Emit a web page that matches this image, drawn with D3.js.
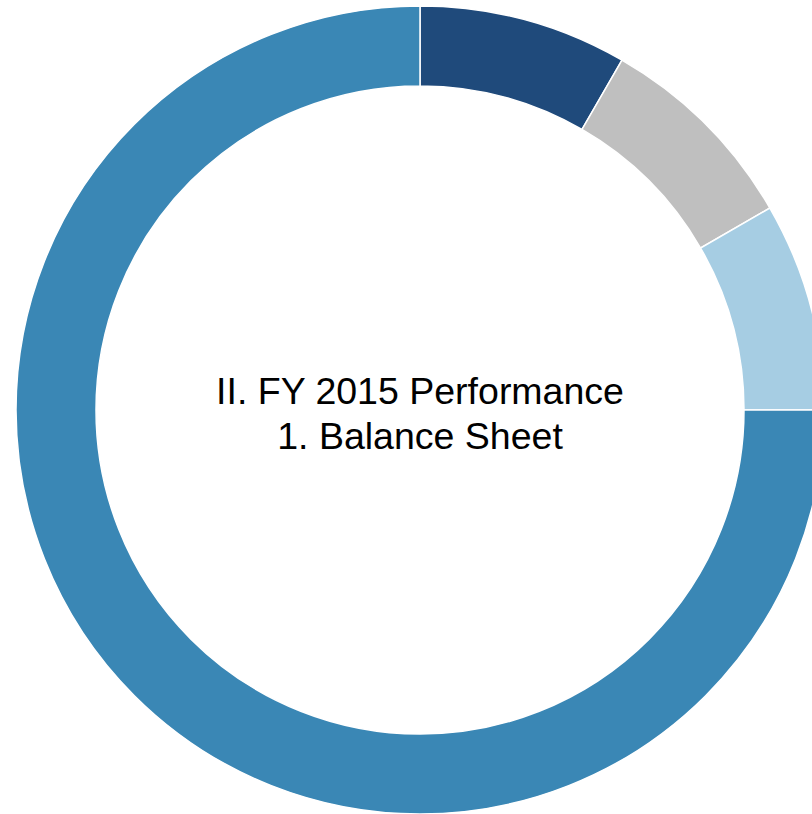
<!DOCTYPE html>
<html>
<head>
<meta charset="utf-8">
<script src="https://cdn.jsdelivr.net/npm/d3@7"></script>
<style>
html,body{margin:0;padding:0;background:#fff;overflow:hidden;}
</style>
</head>
<body>
<svg id="chart" width="812" height="814"></svg>
<script>
const categories = ["Segment A", "Segment B", "Segment C", "Segment D"];
const values = [1, 1, 1, 9];
const colors = ["#1F4A7B", "#BFBFBF", "#A6CDE3", "#3A87B5"];
const titleLines = ["II. FY 2015 Performance", "1. Balance Sheet"];

const svg = d3.select("#chart");
const cx = 420, cy = 410, outerR = 404, innerR = 324;

const pie = d3.pie().sort(null).value(d => d.value);
const arc = d3.arc().innerRadius(innerR).outerRadius(outerR);
const data = categories.map((c, i) => ({ name: c, value: values[i] }));

const g = svg.append("g").attr("transform", `translate(${cx},${cy})`);
g.selectAll("path")
  .data(pie(data))
  .join("path")
  .attr("d", arc)
  .attr("fill", (d, i) => colors[i])
  .attr("stroke", "#fff")
  .attr("stroke-width", 1.5);

const t = g.append("text")
  .attr("text-anchor", "middle")
  .attr("font-family", "Liberation Sans, Arial, sans-serif")
  .attr("font-size", 37.5)
  .attr("fill", "#000");
titleLines.forEach((line, i) => {
  t.append("tspan").attr("x", 0).attr("y", -6 + i * 45).text(line);
});
</script>
</body>
</html>
